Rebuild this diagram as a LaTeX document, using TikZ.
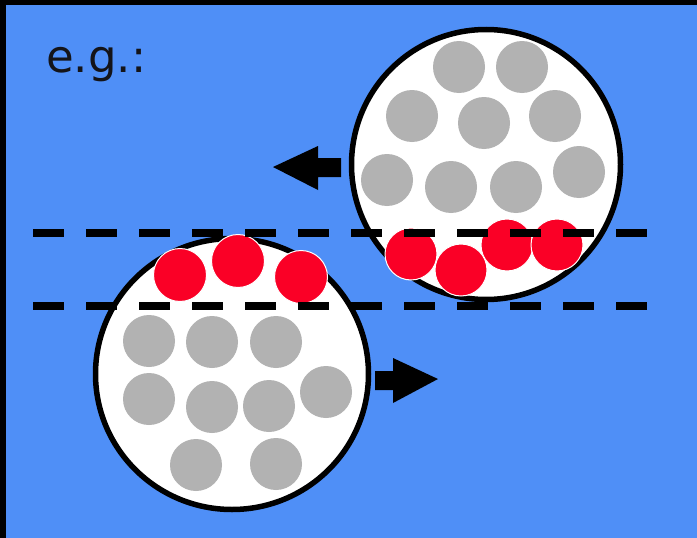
\documentclass[tikz,border=0pt]{standalone}
\usepackage{fontspec}
\setmainfont{DejaVu Sans}
\definecolor{bgblue}{RGB}{79,143,247}
\definecolor{ballgray}{RGB}{178,178,178}
\definecolor{ballred}{RGB}{250,0,38}
\definecolor{txtdark}{RGB}{20,20,25}
\tikzset{
  cell/.style={draw=black,line width=5.5pt,fill=white},
  grayball/.style={fill=ballgray},
  redball/.style={fill=ballred,draw=white,line width=1pt},
  cutline/.style={line width=8pt,dash pattern=on 31pt off 22pt},
  bigarrow/.style={fill=black}
}
\begin{document}
\begin{tikzpicture}[x=1pt,y=-1pt]
\useasboundingbox (0,0) rectangle (697,538);
\fill[bgblue] (0,0) rectangle (697,538);
\fill[black] (0,0) rectangle (6,538);
\fill[black] (0,0) rectangle (697,5);
% cells
\draw[cell] (486,164.5) ellipse [x radius=134.5,y radius=135];
\draw[cell] (232,374) ellipse [x radius=136.5,y radius=135.5];
% gray balls top cell
\foreach \x/\y in {459/67,522/67,412/116,484/123,555/116,387/180,451/187,516/187,579/172}
  \fill[grayball] (\x,\y) circle [radius=26];
% gray balls bottom cell
\foreach \x/\y in {149/341,212/342,276/342,149/399,212/407,269/406,326/392,196/465,276/464}
  \fill[grayball] (\x,\y) circle [radius=26];
% red balls
\foreach \x/\y in {411/254,461/270,507/245,557/245}
  \draw[redball] (\x,\y) circle [radius=26];
\foreach \x/\y in {180/275,238/261,301/277}
  \draw[redball] (\x,\y) circle [radius=26.5];
% dashed lines
\draw[cutline] (33,233) -- (647,233);
\draw[cutline] (33,306) -- (647,306);
% arrows
\fill[bigarrow] (273,167) -- (318,146) -- (318,158) -- (341,158) -- (341,177) -- (318,177) -- (318,190) -- cycle;
\fill[bigarrow] (438,379) -- (393,358) -- (393,371) -- (375,371) -- (375,390) -- (393,390) -- (393,403) -- cycle;
% label
\node[anchor=base west,inner sep=0pt,font=\fontsize{45}{50}\selectfont,text=txtdark] (eg) at (46,72) {e.g.:};
\end{tikzpicture}
\end{document}
